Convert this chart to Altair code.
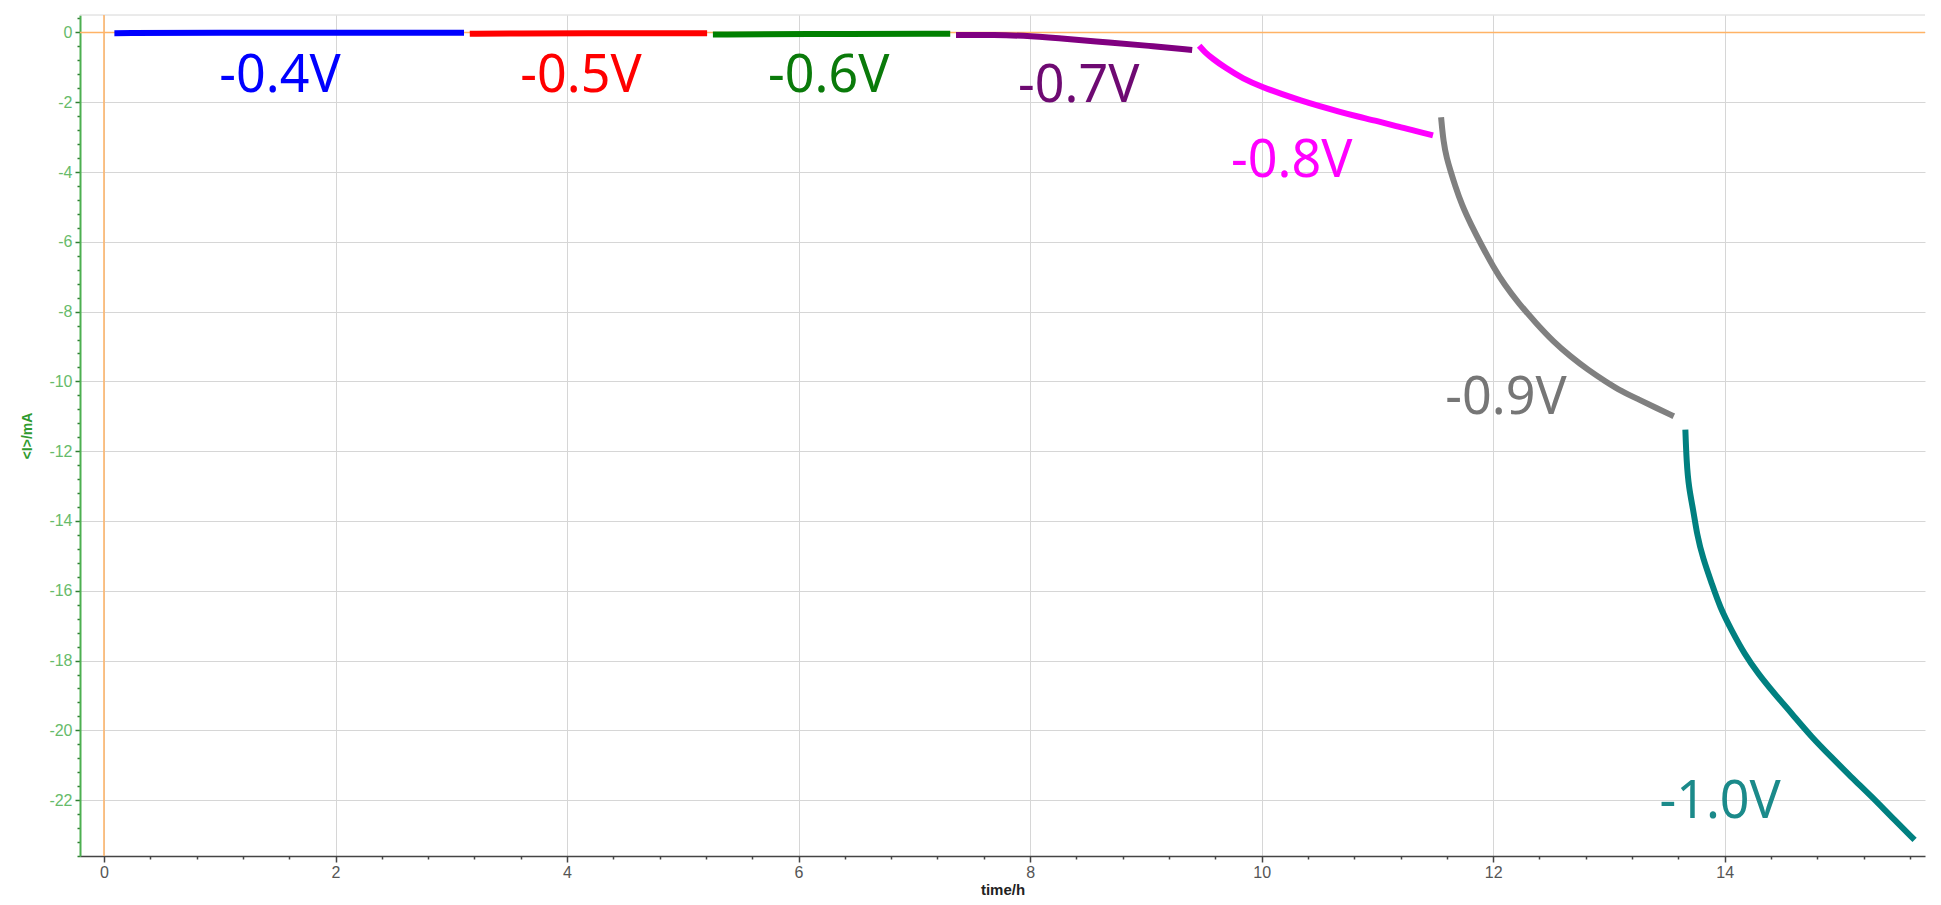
import altair as alt
import pandas as pd

# ---------------- data ----------------
series_names = ["-0.4V", "-0.5V", "-0.6V", "-0.7V", "-0.8V", "-0.9V", "-1.0V"]
line_colors = ["#0000ff", "#ff0000", "#008000", "#800080", "#ff00ff", "#808080", "#008080"]
label_colors = ["#0000ff", "#ff0000", "#0a7a0a", "#6e0a72", "#ff00ff", "#767676", "#1b8a8a"]

t_04 = [0.09, 1.0, 2.0, 3.11]
i_04 = [-0.02, -0.01, -0.01, -0.01]
t_05 = [3.16, 3.5, 4.5, 5.21]
i_05 = [-0.04, -0.03, -0.02, -0.02]
t_06 = [5.26, 6.0, 7.31]
i_06 = [-0.06, -0.04, -0.04]
t_07 = [7.36, 7.69, 8.0, 8.35, 8.68, 9.02, 9.40]
i_07 = [-0.07, -0.07, -0.10, -0.19, -0.29, -0.38, -0.50]
t_08 = [9.46, 9.51, 9.58, 9.68, 9.84, 10.01, 10.17, 10.34, 10.50, 10.67, 10.83, 11.0, 11.16, 11.33, 11.48]
i_08 = [-0.38, -0.57, -0.76, -1.00, -1.33, -1.57, -1.76, -1.95, -2.11, -2.27, -2.41, -2.54, -2.69, -2.82, -2.95]
t_09 = [11.55, 11.57, 11.60, 11.63, 11.67, 11.73, 11.81, 11.90, 12.0, 12.10, 12.22, 12.37,
        12.52, 12.67, 12.82, 12.97, 13.11, 13.26, 13.41, 13.56]
i_09 = [-2.43, -3.14, -3.62, -3.95, -4.38, -4.95, -5.52, -6.10, -6.71, -7.24, -7.76, -8.33,
        -8.86, -9.29, -9.67, -10.0, -10.29, -10.52, -10.76, -11.00]
t_10 = [13.66, 13.67, 13.69, 13.73, 13.76, 13.81, 13.89, 13.96, 14.06, 14.17, 14.29, 14.43,
        14.58, 14.75, 14.92, 15.09, 15.27, 15.44, 15.64]
i_10 = [-11.38, -12.29, -13.05, -13.71, -14.38, -15.05, -15.81, -16.48, -17.14, -17.81, -18.38, -18.95,
        -19.52, -20.19, -20.76, -21.33, -21.90, -22.48, -23.14]

series_t = [t_04, t_05, t_06, t_07, t_08, t_09, t_10]
series_i = [i_04, i_05, i_06, i_07, i_08, i_09, i_10]

label_t = [1.52, 4.12, 6.26, 8.42, 10.26, 12.11, 13.96]
label_i = [-1.71, -1.71, -1.71, -2.0, -4.14, -10.94, -22.5]

x_ticks = [round(0.4 * k, 1) for k in range(0, 40)]
y_ticks = [round(0.4 - 0.4 * k, 1) for k in range(0, 61)]

x_min, x_max = -0.207, 15.73
y_min, y_max = -23.6, 0.5

# ---------------- tables ----------------
rows = []
for name, col, ts, cs in zip(series_names, line_colors, series_t, series_i):
    for tt, cc in zip(ts, cs):
        rows.append({"series": name, "col": col, "t": tt, "I": cc})
df_lines = pd.DataFrame(rows)

df_labels = pd.DataFrame({"label": series_names, "col": label_colors,
                          "t": label_t, "I": label_i})
df_hzero = pd.DataFrame({"I": [0.0]})
df_vzero = pd.DataFrame({"t": [0.0]})
df_top = pd.DataFrame({"I": [y_max]})

x_scale = alt.Scale(domain=[x_min, x_max], nice=False, zero=False)
y_scale = alt.Scale(domain=[y_min, y_max], nice=False, zero=False)

major = "abs(datum.value - 2*round(datum.value/2)) < 0.01"
lab_expr = f"({major}) ? ('' + round(datum.value)) : ''"

x_axis = alt.Axis(
    title="time/h", values=x_ticks, labelExpr=lab_expr, labelOverlap=False,
    grid=True, gridColor="#d6d6d6", gridWidth=1,
    gridOpacity={"condition": {"test": major, "value": 1}, "value": 0},
    tickSize={"condition": {"test": major, "value": 6}, "value": 3},
    tickColor="#444444", tickWidth=1.5,
    domainColor="#444444", domainWidth=1.5,
    labelColor="#555555", labelFontSize=16, labelFont="Liberation Sans Narrow, Liberation Sans, Arial",
    labelPadding=2,
    titleColor="#222222", titleFontSize=15, titleFontWeight="bold",
    titleFont="Liberation Sans, Arial", titlePadding=2,
)
y_axis = alt.Axis(
    title="<I>/mA", values=y_ticks, labelExpr=lab_expr, labelOverlap=False,
    grid=True, gridColor="#d6d6d6", gridWidth=1,
    gridOpacity={"condition": {"test": major, "value": 1}, "value": 0},
    tickSize={"condition": {"test": major, "value": 5}, "value": 3},
    tickColor="#2f7d32", tickWidth=1.5,
    domainColor="#4caf50", domainWidth=2,
    labelColor="#66bb6a", labelFontSize=16, labelFont="Liberation Sans, Arial",
    labelPadding=3,
    titleColor="#2e9a2e", titleFontSize=14, titleFontWeight="bold",
    titleFont="Liberation Sans, Arial", titlePadding=14,
)

X = alt.X("t:Q", scale=x_scale, axis=x_axis)
Y = alt.Y("I:Q", scale=y_scale, axis=y_axis)

lines = alt.Chart(df_lines).mark_line(strokeWidth=6, interpolate="basis", strokeCap="butt").encode(
    x=X, y=Y,
    color=alt.Color("col:N", scale=None),
    detail="series:N",
    order="t:Q",
)

h_zero = alt.Chart(df_hzero).mark_rule(color="#ffb366", strokeWidth=1.5).encode(y=Y)
v_zero = alt.Chart(df_vzero).mark_rule(color="#ffb366", strokeWidth=1.5).encode(x=X)
top_rule = alt.Chart(df_top).mark_rule(color="#d6d6d6", strokeWidth=1).encode(y=Y)

labels = alt.Chart(df_labels).mark_text(
    fontSize=52, font="Noto Sans", align="center", baseline="alphabetic"
).encode(
    x=X, y=Y,
    text="label:N",
    color=alt.Color("col:N", scale=None),
)

chart = alt.layer(top_rule, h_zero, v_zero, lines, labels).properties(
    width=1925, height=889,
    autosize=alt.AutoSizeParams(type="fit", contains="padding"),
    padding={"left": 12, "top": 2, "right": 6, "bottom": 0},
    background="white",
).configure_view(stroke=None)

chart.save("out.html", embed_options={"renderer": "svg", "actions": False})
